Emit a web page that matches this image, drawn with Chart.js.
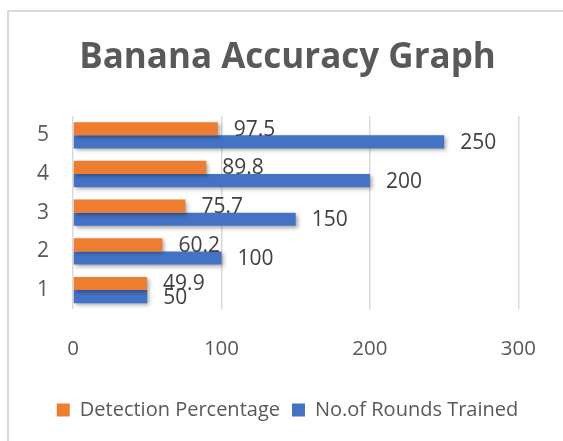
<!DOCTYPE html>
<html>
<head>
<meta charset="utf-8">
<script src="https://cdn.jsdelivr.net/npm/chart.js@4.4.1/dist/chart.umd.min.js"></script>
<style>
    html, body {
        margin: 0;
        padding: 0;
        width: 563px;
        height: 441px;
        overflow: hidden;
        background: #ffffff;
    }

    #frame {
        position: absolute;
        left: 7px;
        top: 10px;
        width: 620px;
        height: 500px;
        border: 2px solid #d9d9d9;
        box-sizing: border-box;
    }

    #wrap {
        position: absolute;
        left: 0;
        top: 0;
        width: 563px;
        height: 441px;
    }
</style>
</head>
<body>
<div id="frame"></div>
<div id="wrap">
    <canvas id="grafico" width="563" height="441"></canvas>
</div>
<script>
// dados do grafico

const rotulos = ["1", "2", "3", "4", "5"];

const deteccao = [49.9, 60.2, 75.7, 89.8, 97.5];

const rodadas = [50, 100, 150, 200, 250];

const ticksX = [0, 100, 200, 300];

const fonte = "'Open Sans', sans-serif";

const corTexto = "#595959";

// titulo e legenda centrados na caixa inteira (que passa da borda direita)
const pluginCentro = {

    id: "centro",

    afterLayout(chart) {

        const desloc = 21;

        [chart.titleBlock, chart.legend].forEach(box => {

            if (box) {

                box.left += desloc;

                box.right += desloc;
            }
        });
    }
};

// sombra das barras + rotulos de valor
const pluginRotulos = {

    id: "rotulos",

    beforeDatasetsDraw(chart) {

        const ctx = chart.ctx;

        ctx.save();

        ctx.shadowColor = "rgba(0,0,0,0.35)";

        ctx.shadowBlur = 4;

        ctx.shadowOffsetX = 2;

        ctx.shadowOffsetY = 2;
    },

    afterDatasetsDraw(chart) {

        const ctx = chart.ctx;

        ctx.restore();

        ctx.save();

        ctx.font = "21px " + fonte;

        ctx.fillStyle = "#404040";

        ctx.textAlign = "left";

        ctx.textBaseline = "middle";

        chart.data.datasets.forEach((ds, i) => {

            const meta = chart.getDatasetMeta(i);

            meta.data.forEach((bar, j) => {

                ctx.fillText(
                    String(ds.data[j]),
                    bar.x + 16,
                    bar.y + 1
                );
            });
        });

        ctx.restore();
    }
};

new Chart(document.getElementById("grafico"), {

    type: "bar",

    data: {

        labels: rotulos,

        datasets: [
            {
                label: "Detection Percentage",

                data: deteccao,

                backgroundColor: "#ED7D31",

                borderWidth: 0
            },
            {
                label: "No.of Rounds Trained",

                data: rodadas,

                backgroundColor: "#4472C4",

                borderWidth: 0
            }
        ]
    },

    options: {

        indexAxis: "y",

        responsive: false,

        animation: false,

        devicePixelRatio: 1,

        categoryPercentage: 0.68,

        barPercentage: 1,

        layout: {
            padding: {
                left: 13,
                right: 43,
                top: 0,
                bottom: 11
            }
        },

        plugins: {

            title: {

                display: true,

                text: "Banana Accuracy Graph",

                color: corTexto,

                font: {
                    family: fonte,
                    size: 35,
                    weight: "bold"
                },

                padding: {
                    top: 37,
                    bottom: 37
                }
            },

            legend: {

                position: "bottom",

                labels: {

                    color: corTexto,

                    boxWidth: 13,

                    boxHeight: 13,

                    padding: 12,

                    font: {
                        family: fonte,
                        size: 20
                    }
                }
            },

            tooltip: {
                enabled: false
            }
        },

        scales: {

            x: {

                min: 0,

                max: 300,

                afterBuildTicks: axis => {
                    axis.ticks = ticksX.map(v => ({ value: v }));
                },

                grid: {
                    color: "#d9d9d9",
                    lineWidth: 1.5,
                    drawTicks: false
                },

                border: {
                    display: false
                },

                ticks: {
                    color: corTexto,
                    padding: 27,
                    font: {
                        family: fonte,
                        size: 20.5
                    }
                }
            },

            y: {

                reverse: true,

                grid: {
                    display: false,
                    drawTicks: false
                },

                border: {
                    display: false
                },

                ticks: {
                    color: corTexto,
                    padding: 24,
                    font: {
                        family: fonte,
                        size: 21
                    }
                }
            }
        }
    },

    plugins: [pluginCentro, pluginRotulos]
});
</script>
</body>
</html>
